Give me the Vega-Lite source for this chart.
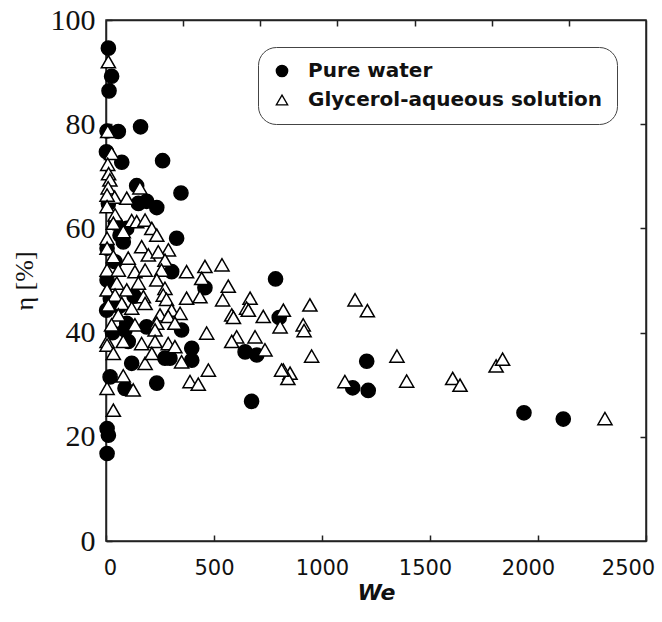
{
  "$schema": "https://vega.github.io/schema/vega-lite/v6.json",
  "width": 540,
  "height": 521,
  "autosize": "none",
  "padding": {"left": 106, "top": 20, "right": 16, "bottom": 81},
  "background": "white",
  "config": {
    "view": {"stroke": "#222", "strokeWidth": 1.5},
    "axis": {"grid": false, "domainColor": "#222", "domainWidth": 1.5, "tickColor": "#222", "tickWidth": 1.5, "labelColor": "#111", "titleColor": "#111"},
    "legend": {"orient": "none", "legendX": 152, "legendY": 27,
      "labelFont": "DejaVu Sans", "labelFontWeight": "bold", "labelFontSize": 20, "labelColor": "#111", "labelLimit": 400,
      "strokeColor": "#444", "cornerRadius": 18, "padding": 14, "fillColor": "white",
      "rowPadding": 9, "labelOffset": 16, "symbolSize": 130, "symbolStrokeWidth": 1.3}
  },
  "datasets": {
    "pts": [
      {"We": 11, "eta": 94.6, "s": "Pure water"},
      {"We": 26, "eta": 89.2, "s": "Pure water"},
      {"We": 14, "eta": 86.4, "s": "Pure water"},
      {"We": 5, "eta": 78.7, "s": "Pure water"},
      {"We": 57, "eta": 78.6, "s": "Pure water"},
      {"We": 160, "eta": 79.5, "s": "Pure water"},
      {"We": 2, "eta": 74.7, "s": "Pure water"},
      {"We": 73, "eta": 72.7, "s": "Pure water"},
      {"We": 262, "eta": 73.0, "s": "Pure water"},
      {"We": 142, "eta": 68.2, "s": "Pure water"},
      {"We": 347, "eta": 66.8, "s": "Pure water"},
      {"We": 188, "eta": 65.2, "s": "Pure water"},
      {"We": 235, "eta": 64.0, "s": "Pure water"},
      {"We": 150, "eta": 64.8, "s": "Pure water"},
      {"We": 11, "eta": 64.8, "s": "Pure water"},
      {"We": 327, "eta": 58.1, "s": "Pure water"},
      {"We": 80, "eta": 57.4, "s": "Pure water"},
      {"We": 65, "eta": 58.7, "s": "Pure water"},
      {"We": 96, "eta": 60.0, "s": "Pure water"},
      {"We": 5, "eta": 56.2, "s": "Pure water"},
      {"We": 42, "eta": 53.6, "s": "Pure water"},
      {"We": 304, "eta": 51.7, "s": "Pure water"},
      {"We": 5, "eta": 50.1, "s": "Pure water"},
      {"We": 458, "eta": 48.6, "s": "Pure water"},
      {"We": 785, "eta": 50.3, "s": "Pure water"},
      {"We": 3, "eta": 44.3, "s": "Pure water"},
      {"We": 96, "eta": 41.8, "s": "Pure water"},
      {"We": 88, "eta": 40.5, "s": "Pure water"},
      {"We": 188, "eta": 41.1, "s": "Pure water"},
      {"We": 350, "eta": 40.5, "s": "Pure water"},
      {"We": 103, "eta": 38.3, "s": "Pure water"},
      {"We": 397, "eta": 37.0, "s": "Pure water"},
      {"We": 119, "eta": 34.1, "s": "Pure water"},
      {"We": 273, "eta": 35.1, "s": "Pure water"},
      {"We": 296, "eta": 35.1, "s": "Pure water"},
      {"We": 397, "eta": 34.7, "s": "Pure water"},
      {"We": 644, "eta": 36.3, "s": "Pure water"},
      {"We": 698, "eta": 35.7, "s": "Pure water"},
      {"We": 235, "eta": 30.3, "s": "Pure water"},
      {"We": 674, "eta": 26.8, "s": "Pure water"},
      {"We": 19, "eta": 31.5, "s": "Pure water"},
      {"We": 88, "eta": 29.3, "s": "Pure water"},
      {"We": 5, "eta": 21.6, "s": "Pure water"},
      {"We": 11, "eta": 20.3, "s": "Pure water"},
      {"We": 5, "eta": 16.8, "s": "Pure water"},
      {"We": 802, "eta": 42.9, "s": "Pure water"},
      {"We": 1207, "eta": 34.5, "s": "Pure water"},
      {"We": 1142, "eta": 29.4, "s": "Pure water"},
      {"We": 1214, "eta": 28.9, "s": "Pure water"},
      {"We": 1935, "eta": 24.6, "s": "Pure water"},
      {"We": 2117, "eta": 23.4, "s": "Pure water"},
      {"We": 45, "eta": 61.0, "s": "Pure water"},
      {"We": 20, "eta": 46.5, "s": "Pure water"},
      {"We": 60, "eta": 45.0, "s": "Pure water"},
      {"We": 30, "eta": 40.0, "s": "Pure water"},
      {"We": 130, "eta": 47.0, "s": "Pure water"},

      {"We": 11, "eta": 92.0, "s": "Glycerol-aqueous solution"},
      {"We": 8, "eta": 78.6, "s": "Glycerol-aqueous solution"},
      {"We": 26, "eta": 74.4, "s": "Glycerol-aqueous solution"},
      {"We": 8, "eta": 72.3, "s": "Glycerol-aqueous solution"},
      {"We": 12, "eta": 70.5, "s": "Glycerol-aqueous solution"},
      {"We": 18, "eta": 69.3, "s": "Glycerol-aqueous solution"},
      {"We": 10, "eta": 67.8, "s": "Glycerol-aqueous solution"},
      {"We": 40, "eta": 66.0, "s": "Glycerol-aqueous solution"},
      {"We": 96, "eta": 65.8, "s": "Glycerol-aqueous solution"},
      {"We": 157, "eta": 67.8, "s": "Glycerol-aqueous solution"},
      {"We": 5, "eta": 66.4, "s": "Glycerol-aqueous solution"},
      {"We": 5, "eta": 64.2, "s": "Glycerol-aqueous solution"},
      {"We": 42, "eta": 62.6, "s": "Glycerol-aqueous solution"},
      {"We": 34, "eta": 61.0, "s": "Glycerol-aqueous solution"},
      {"We": 119, "eta": 61.5, "s": "Glycerol-aqueous solution"},
      {"We": 142, "eta": 61.3, "s": "Glycerol-aqueous solution"},
      {"We": 181, "eta": 61.6, "s": "Glycerol-aqueous solution"},
      {"We": 212, "eta": 60.0, "s": "Glycerol-aqueous solution"},
      {"We": 235, "eta": 58.7, "s": "Glycerol-aqueous solution"},
      {"We": 80, "eta": 59.4, "s": "Glycerol-aqueous solution"},
      {"We": 5, "eta": 58.1, "s": "Glycerol-aqueous solution"},
      {"We": 5, "eta": 56.2, "s": "Glycerol-aqueous solution"},
      {"We": 165, "eta": 56.5, "s": "Glycerol-aqueous solution"},
      {"We": 289, "eta": 55.9, "s": "Glycerol-aqueous solution"},
      {"We": 34, "eta": 54.6, "s": "Glycerol-aqueous solution"},
      {"We": 103, "eta": 54.3, "s": "Glycerol-aqueous solution"},
      {"We": 196, "eta": 54.9, "s": "Glycerol-aqueous solution"},
      {"We": 242, "eta": 55.5, "s": "Glycerol-aqueous solution"},
      {"We": 273, "eta": 53.9, "s": "Glycerol-aqueous solution"},
      {"We": 5, "eta": 52.0, "s": "Glycerol-aqueous solution"},
      {"We": 57, "eta": 52.0, "s": "Glycerol-aqueous solution"},
      {"We": 134, "eta": 51.7, "s": "Glycerol-aqueous solution"},
      {"We": 181, "eta": 52.0, "s": "Glycerol-aqueous solution"},
      {"We": 257, "eta": 52.0, "s": "Glycerol-aqueous solution"},
      {"We": 373, "eta": 51.7, "s": "Glycerol-aqueous solution"},
      {"We": 458, "eta": 52.7, "s": "Glycerol-aqueous solution"},
      {"We": 537, "eta": 53.0, "s": "Glycerol-aqueous solution"},
      {"We": 443, "eta": 50.4, "s": "Glycerol-aqueous solution"},
      {"We": 50, "eta": 49.5, "s": "Glycerol-aqueous solution"},
      {"We": 150, "eta": 49.5, "s": "Glycerol-aqueous solution"},
      {"We": 235, "eta": 50.1, "s": "Glycerol-aqueous solution"},
      {"We": 273, "eta": 48.5, "s": "Glycerol-aqueous solution"},
      {"We": 5, "eta": 48.2, "s": "Glycerol-aqueous solution"},
      {"We": 96, "eta": 48.2, "s": "Glycerol-aqueous solution"},
      {"We": 566, "eta": 48.9, "s": "Glycerol-aqueous solution"},
      {"We": 42, "eta": 47.2, "s": "Glycerol-aqueous solution"},
      {"We": 173, "eta": 46.9, "s": "Glycerol-aqueous solution"},
      {"We": 181, "eta": 45.6, "s": "Glycerol-aqueous solution"},
      {"We": 265, "eta": 47.2, "s": "Glycerol-aqueous solution"},
      {"We": 280, "eta": 46.4, "s": "Glycerol-aqueous solution"},
      {"We": 373, "eta": 46.6, "s": "Glycerol-aqueous solution"},
      {"We": 435, "eta": 46.9, "s": "Glycerol-aqueous solution"},
      {"We": 540, "eta": 46.3, "s": "Glycerol-aqueous solution"},
      {"We": 667, "eta": 46.6, "s": "Glycerol-aqueous solution"},
      {"We": 11, "eta": 45.3, "s": "Glycerol-aqueous solution"},
      {"We": 73, "eta": 45.6, "s": "Glycerol-aqueous solution"},
      {"We": 119, "eta": 44.7, "s": "Glycerol-aqueous solution"},
      {"We": 304, "eta": 44.3, "s": "Glycerol-aqueous solution"},
      {"We": 343, "eta": 43.7, "s": "Glycerol-aqueous solution"},
      {"We": 582, "eta": 43.4, "s": "Glycerol-aqueous solution"},
      {"We": 651, "eta": 44.7, "s": "Glycerol-aqueous solution"},
      {"We": 728, "eta": 43.1, "s": "Glycerol-aqueous solution"},
      {"We": 57, "eta": 43.4, "s": "Glycerol-aqueous solution"},
      {"We": 250, "eta": 43.4, "s": "Glycerol-aqueous solution"},
      {"We": 288, "eta": 43.1, "s": "Glycerol-aqueous solution"},
      {"We": 26, "eta": 41.5, "s": "Glycerol-aqueous solution"},
      {"We": 134, "eta": 41.5, "s": "Glycerol-aqueous solution"},
      {"We": 235, "eta": 41.8, "s": "Glycerol-aqueous solution"},
      {"We": 227, "eta": 40.5, "s": "Glycerol-aqueous solution"},
      {"We": 319, "eta": 41.8, "s": "Glycerol-aqueous solution"},
      {"We": 466, "eta": 39.9, "s": "Glycerol-aqueous solution"},
      {"We": 605, "eta": 39.2, "s": "Glycerol-aqueous solution"},
      {"We": 690, "eta": 39.2, "s": "Glycerol-aqueous solution"},
      {"We": 582, "eta": 38.3, "s": "Glycerol-aqueous solution"},
      {"We": 5, "eta": 38.3, "s": "Glycerol-aqueous solution"},
      {"We": 80, "eta": 38.3, "s": "Glycerol-aqueous solution"},
      {"We": 165, "eta": 37.9, "s": "Glycerol-aqueous solution"},
      {"We": 227, "eta": 38.3, "s": "Glycerol-aqueous solution"},
      {"We": 288, "eta": 37.9, "s": "Glycerol-aqueous solution"},
      {"We": 319, "eta": 37.3, "s": "Glycerol-aqueous solution"},
      {"We": 736, "eta": 36.7, "s": "Glycerol-aqueous solution"},
      {"We": 474, "eta": 32.8, "s": "Glycerol-aqueous solution"},
      {"We": 389, "eta": 30.6, "s": "Glycerol-aqueous solution"},
      {"We": 427, "eta": 30.1, "s": "Glycerol-aqueous solution"},
      {"We": 80, "eta": 31.7, "s": "Glycerol-aqueous solution"},
      {"We": 5, "eta": 29.3, "s": "Glycerol-aqueous solution"},
      {"We": 126, "eta": 29.0, "s": "Glycerol-aqueous solution"},
      {"We": 34, "eta": 25.1, "s": "Glycerol-aqueous solution"},
      {"We": 5, "eta": 37.6, "s": "Glycerol-aqueous solution"},
      {"We": 34, "eta": 36.0, "s": "Glycerol-aqueous solution"},
      {"We": 181, "eta": 34.1, "s": "Glycerol-aqueous solution"},
      {"We": 350, "eta": 34.4, "s": "Glycerol-aqueous solution"},
      {"We": 212, "eta": 36.0, "s": "Glycerol-aqueous solution"},
      {"We": 590, "eta": 42.9, "s": "Glycerol-aqueous solution"},
      {"We": 659, "eta": 44.3, "s": "Glycerol-aqueous solution"},
      {"We": 821, "eta": 44.3, "s": "Glycerol-aqueous solution"},
      {"We": 944, "eta": 45.3, "s": "Glycerol-aqueous solution"},
      {"We": 1153, "eta": 46.3, "s": "Glycerol-aqueous solution"},
      {"We": 1210, "eta": 44.2, "s": "Glycerol-aqueous solution"},
      {"We": 913, "eta": 41.5, "s": "Glycerol-aqueous solution"},
      {"We": 917, "eta": 40.4, "s": "Glycerol-aqueous solution"},
      {"We": 806, "eta": 41.1, "s": "Glycerol-aqueous solution"},
      {"We": 952, "eta": 35.5, "s": "Glycerol-aqueous solution"},
      {"We": 1347, "eta": 35.5, "s": "Glycerol-aqueous solution"},
      {"We": 821, "eta": 32.8, "s": "Glycerol-aqueous solution"},
      {"We": 852, "eta": 32.2, "s": "Glycerol-aqueous solution"},
      {"We": 842, "eta": 31.2, "s": "Glycerol-aqueous solution"},
      {"We": 1106, "eta": 30.6, "s": "Glycerol-aqueous solution"},
      {"We": 1392, "eta": 30.7, "s": "Glycerol-aqueous solution"},
      {"We": 1605, "eta": 31.2, "s": "Glycerol-aqueous solution"},
      {"We": 1639, "eta": 29.9, "s": "Glycerol-aqueous solution"},
      {"We": 1806, "eta": 33.6, "s": "Glycerol-aqueous solution"},
      {"We": 1836, "eta": 34.9, "s": "Glycerol-aqueous solution"},
      {"We": 2310, "eta": 23.5, "s": "Glycerol-aqueous solution"},
      {"We": 813, "eta": 32.8, "s": "Glycerol-aqueous solution"}
    ],
    "frame": [{"a": 0, "b": 0}]
  },
  "layer": [
    {
      "data": {"name": "pts"},
      "mark": {"type": "point", "filled": true, "strokeWidth": 1.5, "opacity": 1, "size": 200},
      "encoding": {
        "x": {"field": "We", "type": "quantitative",
          "scale": {"domain": [0, 2500], "nice": false, "zero": false},
          "axis": {"orient": "bottom", "values": [0, 500, 1000, 1500, 2000, 2500], "format": "d", "tickSize": -6,
            "labelFont": "DejaVu Sans", "labelFontSize": 21, "labelPadding": 22, "labelFlush": false,
            "labelOffset": {"condition": [
              {"test": "datum.value == 0", "value": 4},
              {"test": "datum.value == 1500", "value": -5},
              {"test": "datum.value == 2000", "value": -10},
              {"test": "datum.value == 2500", "value": -18}], "value": 0},
            "title": "We", "titleFont": "DejaVu Sans", "titleFontSize": 22, "titleFontWeight": "bold", "titleFontStyle": "italic", "titlePadding": 4}},
        "y": {"field": "eta", "type": "quantitative",
          "scale": {"domain": [0, 100], "nice": false, "zero": false},
          "axis": {"orient": "left", "values": [0, 20, 40, 60, 80, 100], "tickSize": -6,
            "labelFont": "Liberation Serif", "labelFontSize": 30, "labelPadding": 17, "labelFlush": false,
            "title": "η [%]", "titleFont": "Liberation Serif", "titleFontSize": 26, "titleFontWeight": "normal", "titlePadding": 13}},
        "shape": {"field": "s", "type": "nominal", "title": null,
          "scale": {"domain": ["Pure water", "Glycerol-aqueous solution"], "range": ["circle", "triangle-up"]}},
        "fill": {"field": "s", "type": "nominal", "title": null,
          "scale": {"domain": ["Pure water", "Glycerol-aqueous solution"], "range": ["black", "white"]}},
        "stroke": {"field": "s", "type": "nominal", "title": null,
          "scale": {"domain": ["Pure water", "Glycerol-aqueous solution"], "range": ["black", "black"]}}
      }
    },
    {
      "data": {"name": "frame"},
      "mark": {"type": "point", "opacity": 0},
      "encoding": {
        "x": {"field": "a", "type": "quantitative",
          "scale": {"domain": [0, 2500], "nice": false, "zero": false},
          "axis": {"orient": "top", "values": [357.14, 714.29, 1071.43, 1428.57, 1785.71, 2142.86], "tickSize": -6, "labels": false, "title": null}},
        "y": {"field": "b", "type": "quantitative",
          "scale": {"domain": [0, 100], "nice": false, "zero": false},
          "axis": {"orient": "right", "values": [20, 40, 60, 80], "tickSize": -6, "labels": false, "title": null}}
      }
    }
  ],
  "resolve": {"scale": {"x": "independent", "y": "independent"}, "axis": {"x": "independent", "y": "independent"}}
}
